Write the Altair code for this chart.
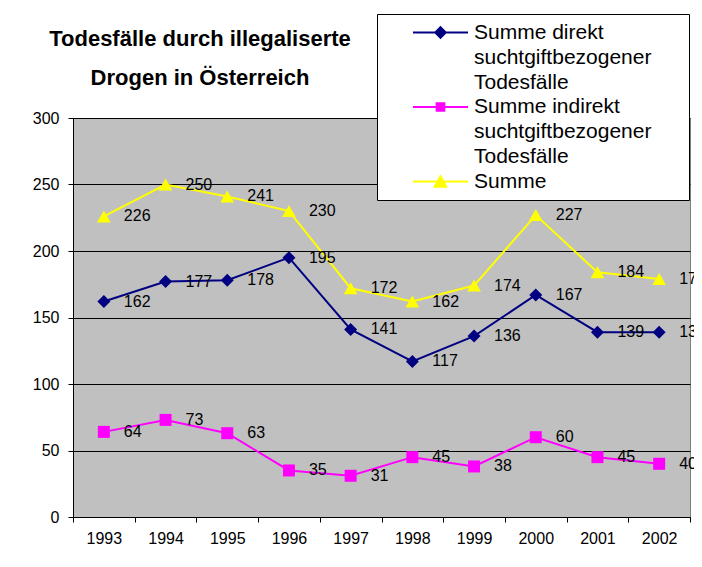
import altair as alt
import pandas as pd

years = ["1993", "1994", "1995", "1996", "1997", "1998", "1999", "2000", "2001", "2002"]
direkt = [162, 177, 178, 195, 141, 117, 136, 167, 139, 139]
indirekt = [64, 73, 63, 35, 31, 45, 38, 60, 45, 40]
summe = [226, 250, 241, 230, 172, 162, 174, 227, 184, 179]

series_names = [
    "Summe direkt suchtgiftbezogener Todesfälle",
    "Summe indirekt suchtgiftbezogener Todesfälle",
    "Summe",
]
series_colors = ["#000080", "#FF00FF", "#FFFF00"]
marker_shapes = ["diamond", "square", "triangle-up"]
marker_sizes = [169, 144, 190]

# legend glyphs: a line through a marker (marker filled by nested outlines)
LINE = "M-4.58,0H4.58"
legend_symbols = [
    LINE + "".join(f"M0,-{r}L{r},0L0,{r}L-{r},0Z" for r in (0.87, 0.6, 0.33, 0.06)),
    LINE + "".join(f"M-{r},-{r}H{r}V{r}H-{r}Z" for r in (0.64, 0.37, 0.1)),
    LINE + "M0,-0.87L0.97,0.87L-0.97,0.87Z"
    + "M0,-0.522L0.679,0.696L-0.679,0.696Z"
    + "M0,-0.174L0.388,0.522L-0.388,0.522Z"
    + "M0,0.151L0.116,0.36L-0.116,0.36Z",
]

rows = []
for name, vals in zip(series_names, [direkt, indirekt, summe]):
    for y, v in zip(years, vals):
        rows.append({"year": y, "series": name, "value": v})
df = pd.DataFrame(rows)

FONT = "Liberation Sans"

x_enc = alt.X(
    "year:O",
    scale=alt.Scale(type="band", paddingInner=0, paddingOuter=0),
    bandPosition=0.5,
    axis=alt.Axis(
        title=None, labelAngle=0, tickBand="extent", grid=False,
        domainColor="black", tickColor="black", tickSize=5,
        labelFontSize=16, labelFont=FONT, labelColor="black", labelPadding=8,
    ),
)
y_enc = alt.Y(
    "value:Q",
    scale=alt.Scale(domain=[0, 300], nice=False),
    axis=alt.Axis(
        title=None, values=[0, 50, 100, 150, 200, 250, 300], grid=True,
        gridColor="black", gridWidth=1, domainColor="black", tickColor="black",
        tickSize=5, labelFontSize=16, labelFont=FONT, labelColor="black",
        labelPadding=9,
    ),
)

stroke_scale = alt.Scale(domain=series_names, range=series_colors)
fill_scale = alt.Scale(domain=series_names, range=series_colors)

base = alt.Chart(df)

PAD = "\u00a0" * 5 + "\u200b"
leg = alt.Legend(
    title=None, orient="none", legendX=304, legendY=-104,
    fillColor="white", strokeColor="black", padding=8, symbolOffset=45,
    symbolSize=144, symbolStrokeWidth=2, labelFontSize=21, labelFont=FONT,
    labelColor="black", labelLimit=400, labelOffset=23, rowPadding=2.5,
    labelExpr=(
        "datum.label == 'Summe' ? 'Summe' : "
        "split(replace(datum.label, ' suchtgiftbezogener ', '|suchtgiftbezogener" + PAD + "|'), '|')"
    ),
)

legend_layer = base.mark_point(filled=True, opacity=0, size=144).encode(
    x=x_enc, y=y_enc,
    fill=alt.Fill("series:N", scale=fill_scale, legend=leg),
    stroke=alt.Stroke("series:N", scale=stroke_scale, legend=leg),
    shape=alt.Shape("series:N", scale=alt.Scale(domain=series_names, range=legend_symbols), legend=leg),
)

lines = base.mark_line(strokeWidth=2).encode(
    x=x_enc, y=y_enc,
    stroke=alt.Stroke("series:N", scale=stroke_scale, legend=None, sort=series_names),
)

point_layers = []
for name, shp, sz in zip(series_names, marker_shapes, marker_sizes):
    point_layers.append(
        base.transform_filter(alt.datum.series == name)
        .mark_point(shape=shp, filled=True, size=sz, opacity=1)
        .encode(
            x=x_enc, y=y_enc,
            fill=alt.Fill("series:N", scale=fill_scale, legend=None),
        )
    )

labels = base.mark_text(
    align="left", baseline="middle", dx=20, fontSize=16, font=FONT, color="black"
).encode(x=x_enc, y=y_enc, text=alt.Text("value:Q"))

chart = alt.layer(legend_layer, lines, *point_layers, labels).properties(
    width=617,
    height=399,
    padding={"left": 65, "top": 110, "right": 4, "bottom": 42},
    autosize=alt.AutoSizeParams(type="none"),
    title=alt.TitleParams(
        ["Todesfälle durch illegaliserte", "Drogen in Österreich"],
        fontSize=22, fontWeight="bold", font=FONT, color="black",
        anchor="start", align="center", frame="group", dx=127,
        lineHeight=39, offset=-76,
    ),
).configure(
    background="white",
    style={"guide-label": {"lineHeight": 25}},
    view=alt.ViewConfig(fill="#C0C0C0", stroke="#808080", strokeWidth=1),
)

chart.save("out.html", embed_options={"renderer": "svg", "actions": False})
